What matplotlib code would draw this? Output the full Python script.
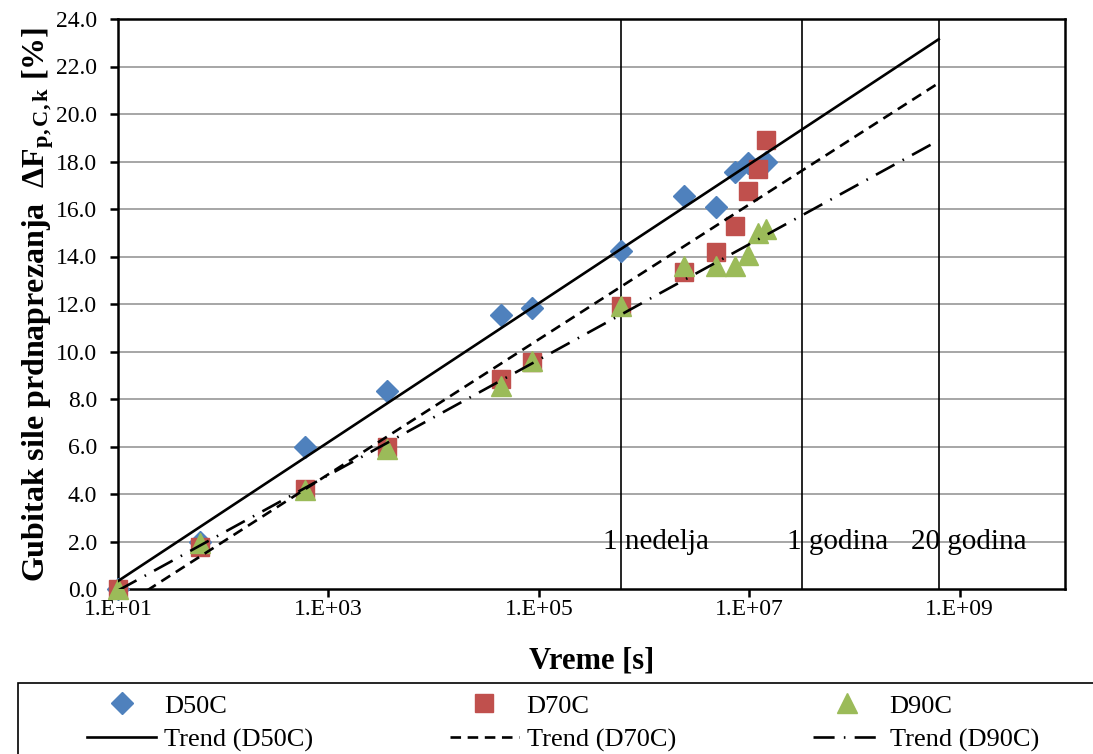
import numpy as np
import matplotlib
matplotlib.use('Agg')
import matplotlib.pyplot as plt
from matplotlib.ticker import FixedLocator, FuncFormatter, NullLocator
from matplotlib.patches import Rectangle
from matplotlib.lines import Line2D

plt.rcParams['font.family'] = ['Liberation Serif', 'DejaVu Serif']
plt.rcParams['mathtext.fontset'] = 'custom'
plt.rcParams['mathtext.rm'] = 'Liberation Serif'
plt.rcParams['mathtext.bf'] = 'Liberation Serif:bold'
plt.rcParams['mathtext.it'] = 'Liberation Serif:italic'

# vreme [s]
t50 = [10, 60, 600, 3600, 43200, 86400, 604800, 2419200, 4838400, 7257600, 9676800, 14515200]
d50 = [0.0, 2.0, 6.0, 8.35, 11.55, 11.85, 14.25, 16.55, 16.1, 17.55, 17.95, 18.0]

t70 = [10, 60, 600, 3600, 43200, 86400, 604800, 2419200, 4838400, 7257600, 9676800, 12096000, 14515200]
d70 = [0.0, 1.75, 4.2, 6.0, 8.85, 9.55, 11.9, 13.35, 14.2, 15.3, 16.75, 17.7, 18.9]

t90 = [10, 60, 600, 3600, 43200, 86400, 604800, 2419200, 4838400, 7257600, 9676800, 12096000, 14515200]
d90 = [0.0, 1.95, 4.15, 5.9, 8.55, 9.6, 11.9, 13.6, 13.6, 13.6, 14.05, 15.0, 15.15]

oznake = ['1 nedelja', '1 godina', '20 godina']
oznake_t = [604800, 31536000, 630720000]
oznake_dx = [-13, -11, -20]

fig = plt.figure(figsize=(10.93, 7.54), dpi=100)
ax = fig.add_axes([118/1093, 1 - 589/754, (1065-118)/1093, (589-19)/754])

for y in np.arange(2, 24.1, 2):
    ax.axhline(y, color='#a6a6a6', lw=1.4, zorder=0)

for tt, txt, dx in zip(oznake_t, oznake, oznake_dx):
    ax.axvline(tt, color='black', lw=1.2, zorder=1)
    ax.annotate(txt, xy=(tt, 2.0), xytext=(dx, -5.5), textcoords='offset points',
                ha='left', va='baseline', fontsize=21, zorder=2)

ax.plot(t50, d50, 'D', color='#4f81bd', ms=11, mec='#4f81bd', zorder=3, clip_on=False)
ax.plot(t70, d70, 's', color='#c0504d', ms=13, mec='#c0504d', zorder=3, clip_on=False)
ax.plot(t90, d90, '^', color='#9bbb59', ms=15, mec='#9bbb59', zorder=3, clip_on=False)

# logaritamski trend (kao u Excelu), produzen do 20 godina
tt = np.logspace(1, np.log10(630720000), 200)
stilovi = ['-', (0, (4, 2.5)), (0, (8, 3.5, 0.6, 3.5))]
for t, d, ls in zip([t50, t70, t90], [d50, d70, d90], stilovi):
    k, n = np.polyfit(np.log10(t), d, 1)
    ax.plot(tt, k*np.log10(tt) + n, color='black', lw=1.9, ls=ls, zorder=4)

ax.set_xscale('log')
ax.set_xlim(10, 1e10)
ax.set_ylim(0, 24)
ax.xaxis.set_major_locator(FixedLocator([1e1, 1e3, 1e5, 1e7, 1e9]))
ax.xaxis.set_minor_locator(NullLocator())
ax.xaxis.set_major_formatter(FuncFormatter(lambda v, p: '1.E+%02d' % round(np.log10(v))))
ax.set_yticks(np.arange(0, 24.1, 2))
ax.yaxis.set_major_formatter(FuncFormatter(lambda v, p: '%.1f' % v))
ax.tick_params(direction='out', length=6, width=1.8, labelsize=17, pad=9)
ax.tick_params(axis='x', pad=1)
for s in ax.spines.values():
    s.set_linewidth(1.8)

ax.set_xlabel('Vreme [s]', fontsize=22, fontweight='bold', labelpad=19)
ax.set_ylabel(r'Gubitak sile prdnaprezanja  $\mathbf{\Delta F_{p,C,k}}$ [%]',
              fontsize=23, fontweight='bold', labelpad=0)

# legenda
fig.patches.append(Rectangle((18/1093, -0.05), 1.1, (754-683)/754 + 0.05,
                             transform=fig.transFigure, fill=False,
                             edgecolor='black', lw=1.2))
h = [Line2D([], [], ls='none', marker='D', color='#4f81bd', ms=11),
     Line2D([], [], color='black', lw=1.9, ls=stilovi[0]),
     Line2D([], [], ls='none', marker='s', color='#c0504d', ms=13),
     Line2D([], [], color='black', lw=1.9, ls=stilovi[1]),
     Line2D([], [], ls='none', marker='^', color='#9bbb59', ms=15),
     Line2D([], [], color='black', lw=1.9, ls=stilovi[2])]
lab = ['D50C', 'Trend (D50C)', 'D70C', 'Trend (D70C)', 'D90C', 'Trend (D90C)']
fig.legend(h, lab, loc='upper left', bbox_to_anchor=(74/1093, 1 - 681/754),
           ncol=3, frameon=False, fontsize=19, borderpad=0, handlelength=2.6,
           handletextpad=0.3, columnspacing=5.2, labelspacing=0.4)

fig.savefig('out.png', dpi=100)
